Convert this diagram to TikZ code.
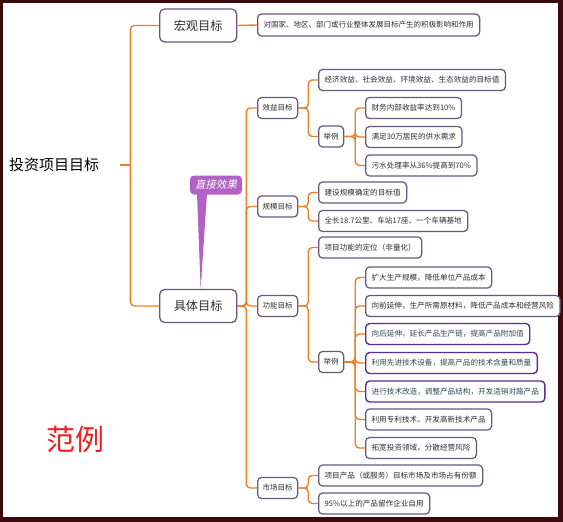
\documentclass[tikz,border=0pt]{standalone}
\usepackage{fontspec}
\setmainfont{Noto Sans CJK SC}
\newfontfamily\calloutfont[FakeSlant=0.2]{Noto Sans CJK SC}
\usepackage{tikz}
\usetikzlibrary{positioning,calc}
\definecolor{MapFrame}{HTML}{3A0A0C}
\definecolor{MapOrange}{HTML}{F07F26}
\definecolor{MapBorder}{HTML}{655A7E}
\definecolor{MapPurple}{HTML}{5C2D91}
\definecolor{MapInk}{HTML}{2E2E2E}
\definecolor{MapTeal}{HTML}{2F4A50}
\definecolor{MapCallout}{HTML}{B262C4}
\definecolor{MapRed}{HTML}{F01E1E}

\begin{document}
\begin{tikzpicture}[x=1pt, y=-1pt,
  topic/.style={draw=MapBorder, line width=1.3pt, rounded corners=5pt, fill=white,
                anchor=west, minimum width=77pt, minimum height=33pt,
                font=\fontsize{12.2}{14}\selectfont, text=MapInk},
  sub/.style={draw=MapBorder, line width=1.25pt, rounded corners=4pt, fill=white,
              anchor=west, inner xsep=5pt, minimum height=21pt,
              font=\fontsize{7.5}{9}\selectfont, text=MapInk},
  leaf/.style={sub, inner xsep=6pt, font=\fontsize{7.6}{9}\selectfont},
  keyleaf/.style={leaf, draw=MapPurple, line width=1.4pt, text=MapTeal},
  branch/.style={draw=MapOrange, line width=1.4pt, rounded corners=4pt}
]
  % Frame
  \useasboundingbox (0,0) rectangle (563,522);
  \fill[MapFrame] (0,0) rectangle (563,522);
  \fill[white] (3,3) rectangle (558,517);

  % Root and first level
  \node[anchor=west, inner sep=0pt, font=\fontsize{15}{18}\selectfont] (root) at (9,165) {投资项目目标};
  \node[topic] (macro) at (159,25.5) {宏观目标};
  \node[topic] (spec)  at (159,306)  {具体目标};
  \node[sub, inner xsep=6pt, minimum height=22pt] (macrodesc) at (257,25)
    {对国家、地区、部门或行业整体发展目标产生的积极影响和作用};

  % Second level
  \node[sub] (benefit) at (257,108)   {效益目标};
  \node[sub] (scale)   at (257,206.5) {规模目标};
  \node[sub] (func)    at (257,306)   {功能目标};
  \node[sub] (market)  at (257,488)   {市场目标};

  % Benefit targets
  \node[leaf] (b1)   at (318,80)    {经济效益、社会效益、环境效益、生态效益的目标值};
  \node[sub]  (bex)  at (318,136.5) {举例};
  \node[leaf] (bex1) at (365,108)   {财务内部收益率达到10\%};
  \node[leaf] (bex2) at (365,137)   {满足30万居民的供水需求};
  \node[leaf] (bex3) at (365,165.5) {污水处理率从36\%提高到70\%};

  % Scale targets
  \node[leaf] (s1) at (318,192.5) {建设规模确定的目标值};
  \node[leaf] (s2) at (318,221)   {全长18.7公里、车站17座、一个车辆基地};

  % Function targets
  \node[leaf]    (f1)   at (318,247.5) {项目功能的定位（非量化）};
  \node[sub]     (fex)  at (318,362)   {举例};
  \node[leaf]    (fex1) at (365,277.5) {扩大生产规模，降低单位产品成本};
  \node[leaf]    (fex2) at (365,306)   {向前延伸，生产所需原材料，降低产品成本和经营风险};
  \node[keyleaf] (fex3) at (365,334)   {向后延伸，延长产品生产链，提高产品附加值};
  \node[keyleaf] (fex4) at (365,363)   {利用先进技术设备，提高产品的技术含量和质量};
  \node[keyleaf] (fex5) at (365,391.5) {进行技术改造，调整产品结构，开发适销对路产品};
  \node[leaf]    (fex6) at (365,419.5) {利用专利技术，开发高新技术产品};
  \node[leaf]    (fex7) at (365,448)   {拓宽投资领域，分散经营风险};

  % Market targets
  \node[leaf] (m1) at (318,475.5) {项目产品（或服务）目标市场及市场占有份额};
  \node[leaf] (m2) at (318,503.5) {95\%以上的产品留作企业自用};

  % Branches
  \draw[branch] ([xshift=21pt]root.east) -- ++(10,0) coordinate (fork);
  \draw[branch] (fork) |- (macro.west);
  \draw[branch] (fork) |- (spec.west);
  \draw[branch] (macro.east) -- (macrodesc.west);
  \foreach \c in {benefit,scale,func,market}
    \draw[branch] (spec.east) -- ++(9,0) |- (\c.west);
  \foreach \c in {b1,bex}
    \draw[branch] (benefit.east) -- ++(10,0) |- (\c.west);
  \foreach \c in {bex1,bex2,bex3}
    \draw[branch] (bex.east) -- ++(11,0) |- (\c.west);
  \foreach \c in {s1,s2}
    \draw[branch] (scale.east) -- ++(10,0) |- (\c.west);
  \foreach \c in {f1,fex}
    \draw[branch] (func.east) -- ++(10,0) |- (\c.west);
  \foreach \c in {fex1,fex2,fex3,fex4,fex5,fex6,fex7}
    \draw[branch] (fex.east) -- ++(11,0) |- (\c.west);
  \foreach \c in {m1,m2}
    \draw[branch] (market.east) -- ++(10,0) |- (\c.west);

  % Callout
  \node[fill=MapCallout, rounded corners=4pt, minimum width=52pt, minimum height=19pt,
        inner sep=1pt, text=white, font=\calloutfont\fontsize{10.5}{12}\selectfont]
    (callout) at (216,185) {直接效果};
  \fill[MapCallout] ([xshift=-19pt,yshift=1pt]callout.south) -- ([xshift=2.5pt]spec.north)
    -- ([xshift=-9pt,yshift=1pt]callout.south) -- cycle;

  % Example mark
  \node[text=MapRed, font=\fontsize{29}{32}\selectfont] (example) at (75,439) {范例};
\end{tikzpicture}
\end{document}
